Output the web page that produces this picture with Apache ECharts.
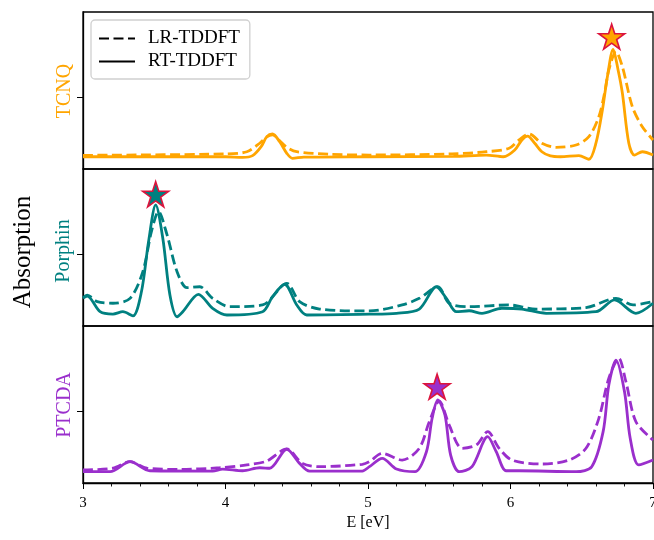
<!DOCTYPE html>
<html>
<head>
<meta charset="utf-8">
<script src="https://cdn.jsdelivr.net/npm/echarts@6/dist/echarts.min.js"></script>
<style>html,body{margin:0;padding:0;background:#fff}#c{width:654px;height:540px}</style>
</head>
<body>
<div id="c"></div>
<script>
// ---- data (normalised absorption, arbitrary units) ----
var xTicks = [3, 4, 5, 6, 7];
var panelNames = ['TCNQ', 'Porphin', 'PTCDA'];
var panelColors = ['#ffa500', '#008080', '#9a2fcc'];
var yTickValue = 0.459;

var tcnqRtE = [3.0,3.5,4.0,4.12,4.19,4.25,4.29,4.33,4.38,4.43,4.47,4.55,5.0,5.6,5.83,5.95,6.03,6.08,6.12,6.17,6.22,6.28,6.35,6.48,6.55,6.60,6.645,6.68,6.72,6.755,6.785,6.83,6.87,6.925,7.0];
var tcnqRtV = [0.078,0.078,0.078,0.074,0.085,0.142,0.206,0.223,0.174,0.100,0.068,0.076,0.078,0.080,0.089,0.078,0.121,0.185,0.210,0.164,0.110,0.083,0.078,0.085,0.062,0.166,0.376,0.588,0.762,0.631,0.484,0.166,0.089,0.110,0.089];
var tcnqLrE = [3.0,4.0,4.15,4.24,4.29,4.33,4.38,4.43,4.50,4.73,5.01,5.59,5.83,5.99,6.06,6.13,6.22,6.32,6.46,6.55,6.62,6.66,6.69,6.74,6.785,6.855,6.925,7.0];
var tcnqLrV = [0.087,0.096,0.110,0.164,0.205,0.217,0.180,0.138,0.110,0.094,0.089,0.096,0.110,0.132,0.185,0.223,0.164,0.138,0.153,0.206,0.333,0.484,0.631,0.747,0.652,0.397,0.269,0.185];

var porRtE = [3.0,3.03,3.12,3.21,3.28,3.35,3.41,3.46,3.51,3.56,3.61,3.66,3.70,3.81,3.91,4.01,4.26,4.33,4.415,4.50,4.57,5.01,5.20,5.36,5.48,5.55,5.62,5.71,5.80,5.94,6.08,6.25,6.60,6.73,6.88,7.0];
var porRtV = [0.178,0.190,0.091,0.076,0.091,0.064,0.218,0.537,0.771,0.559,0.197,0.059,0.091,0.202,0.113,0.070,0.091,0.187,0.266,0.134,0.070,0.075,0.081,0.108,0.250,0.176,0.091,0.097,0.081,0.113,0.108,0.081,0.091,0.166,0.081,0.145];
var porLrE = [3.0,3.03,3.10,3.21,3.33,3.42,3.48,3.53,3.59,3.66,3.73,3.82,3.91,4.03,4.26,4.43,4.52,4.66,5.01,5.24,5.36,5.49,5.57,5.71,5.99,6.18,6.53,6.74,6.86,7.0];
var porLrV = [0.180,0.197,0.155,0.145,0.176,0.346,0.601,0.728,0.580,0.346,0.244,0.250,0.176,0.123,0.134,0.272,0.155,0.108,0.096,0.134,0.176,0.250,0.145,0.123,0.134,0.108,0.117,0.176,0.134,0.155];

var ptcRtE = [3.0,3.19,3.33,3.47,3.91,3.98,4.12,4.24,4.31,4.43,4.52,4.59,4.96,5.01,5.10,5.20,5.33,5.41,5.45,5.49,5.54,5.58,5.64,5.73,5.84,5.90,5.97,6.06,6.46,6.57,6.65,6.69,6.74,6.80,6.84,6.90,7.0];
var ptcRtV = [0.072,0.072,0.136,0.078,0.076,0.089,0.078,0.097,0.094,0.215,0.125,0.076,0.076,0.104,0.157,0.089,0.072,0.199,0.412,0.529,0.433,0.178,0.072,0.104,0.295,0.199,0.078,0.078,0.072,0.104,0.327,0.624,0.783,0.582,0.285,0.115,0.146];
var ptcLrE = [3.0,3.21,3.33,3.45,3.68,3.96,4.15,4.29,4.43,4.54,4.66,4.96,5.01,5.10,5.24,5.36,5.43,5.50,5.57,5.66,5.76,5.84,5.92,6.01,6.22,6.41,6.53,6.62,6.69,6.76,6.81,6.88,7.0];
var ptcLrV = [0.083,0.094,0.136,0.094,0.087,0.097,0.115,0.140,0.217,0.125,0.104,0.119,0.136,0.189,0.146,0.221,0.390,0.522,0.369,0.221,0.242,0.327,0.221,0.146,0.121,0.146,0.221,0.412,0.667,0.794,0.645,0.390,0.274];

var starE = [6.71, 3.51, 5.485];
var starV = [0.843, 0.839, 0.613];

// ---- chart ----
var FONT = 'Liberation Serif';
var STAR = 'path://M0,-100 L22.45,-30.9 L95.1,-30.9 L36.3,11.8 L58.8,80.9 L0,38.2 L-58.8,80.9 L-36.3,11.8 L-95.1,-30.9 L-22.45,-30.9 Z';
function zip(e, v) { return e.map(function (x, i) { return [x, v[i]]; }); }
var rt = [zip(tcnqRtE, tcnqRtV), zip(porRtE, porRtV), zip(ptcRtE, ptcRtV)];
var lr = [zip(tcnqLrE, tcnqLrV), zip(porLrE, porLrV), zip(ptcLrE, ptcLrV)];

var tops = [12, 169, 326];
var grids = [], xAxes = [], yAxes = [], series = [];
for (var i = 0; i < 3; i++) {
  grids.push({ left: 83, width: 570, top: tops[i], height: 157, show: true, borderColor: '#000', borderWidth: 1.3,
    backgroundColor: 'transparent', containLabel: false, outerBoundsMode: 'none' });
  var bottom = i === 2;
  xAxes.push({
    gridIndex: i, type: 'value', min: xTicks[0], max: xTicks[xTicks.length - 1], interval: 1,
    axisLine: { show: bottom, lineStyle: { color: '#000', width: 1.3 } },
    axisTick: { show: bottom, inside: false, length: 6, lineStyle: { color: '#000', width: 1 } },
    minorTick: { show: bottom, splitNumber: 5, length: 3.5, lineStyle: { color: '#000', width: 0.9 } },
    axisLabel: { show: bottom, margin: 13, color: '#000', fontFamily: FONT, fontSize: 15 },
    splitLine: { show: false },
    name: bottom ? 'E [eV]' : '', nameLocation: 'middle', nameGap: 32,
    nameTextStyle: { color: '#000', fontFamily: FONT, fontSize: 16 }
  });
  yAxes.push({
    gridIndex: i, type: 'value', min: 0, max: 1,
    axisLine: { show: true, lineStyle: { color: '#000', width: 1.3 } },
    axisTick: { show: true, inside: false, length: 6, customValues: [yTickValue], lineStyle: { color: '#000', width: 1 } },
    axisLabel: { show: false },
    splitLine: { show: false }
  });
  series.push({
    type: 'line', xAxisIndex: i, yAxisIndex: i, data: lr[i], symbol: 'none', smooth: 0.3,
    lineStyle: { color: panelColors[i], width: 2.8, type: [10, 4.5] }, z: 3, silent: true
  });
  series.push({
    type: 'line', xAxisIndex: i, yAxisIndex: i, data: rt[i], symbol: 'none', smooth: 0.3,
    lineStyle: { color: panelColors[i], width: 2.8 }, z: 4, silent: true
  });
  series.push({
    type: 'scatter', xAxisIndex: i, yAxisIndex: i, data: [[starE[i], starV[i]]],
    symbol: STAR, symbolSize: [26, 25],
    itemStyle: { color: panelColors[i], borderColor: '#dc143c', borderWidth: 1.6, opacity: 1 }, z: 6, silent: true
  });
}
// legend proxies
series.push({ name: 'LR-TDDFT', type: 'line', xAxisIndex: 0, yAxisIndex: 0, data: [], symbol: 'none', lineStyle: { color: '#000', width: 2.8, type: [10, 4.5] }, itemStyle: { color: '#000' } });
series.push({ name: 'RT-TDDFT', type: 'line', xAxisIndex: 0, yAxisIndex: 0, data: [], symbol: 'none', lineStyle: { color: '#000', width: 2.8 }, itemStyle: { color: '#000' } });

var labelPos = [[65, 91], [64, 251], [65, 405]];
var graphics = [];
for (var j = 0; j < 3; j++) {
  graphics.push({ type: 'text', x: labelPos[j][0], y: labelPos[j][1], rotation: Math.PI / 2,
    style: { text: panelNames[j], fill: panelColors[j], font: '20px "' + FONT + '"', align: 'center', verticalAlign: 'middle' } });
}
graphics.push({ type: 'text', x: 23, y: 252, rotation: Math.PI / 2,
  style: { text: 'Absorption', fill: '#000', font: '25px "' + FONT + '"', align: 'center', verticalAlign: 'middle' } });

var chart = echarts.init(document.getElementById('c'), null, { renderer: 'canvas' });
chart.setOption({
  animation: false,
  backgroundColor: '#fff',
  grid: grids, xAxis: xAxes, yAxis: yAxes, series: series,
  legend: {
    data: ['LR-TDDFT', 'RT-TDDFT'], orient: 'vertical', left: 91, top: 20,
    padding: [9, 10, 8, 7], itemGap: 4, itemWidth: 36, itemHeight: 14,
    borderColor: '#d0d0d0', borderWidth: 1.3, borderRadius: 4, backgroundColor: '#fff',
    itemStyle: { color: 'rgba(0,0,0,0)', borderColor: 'rgba(0,0,0,0)', borderWidth: 0 },
    textStyle: { fontFamily: FONT, fontSize: 19, lineHeight: 16, color: '#000', padding: [0, 0, 0, 8] },
    selectedMode: false
  },
  graphic: graphics
});
</script>
</body>
</html>
